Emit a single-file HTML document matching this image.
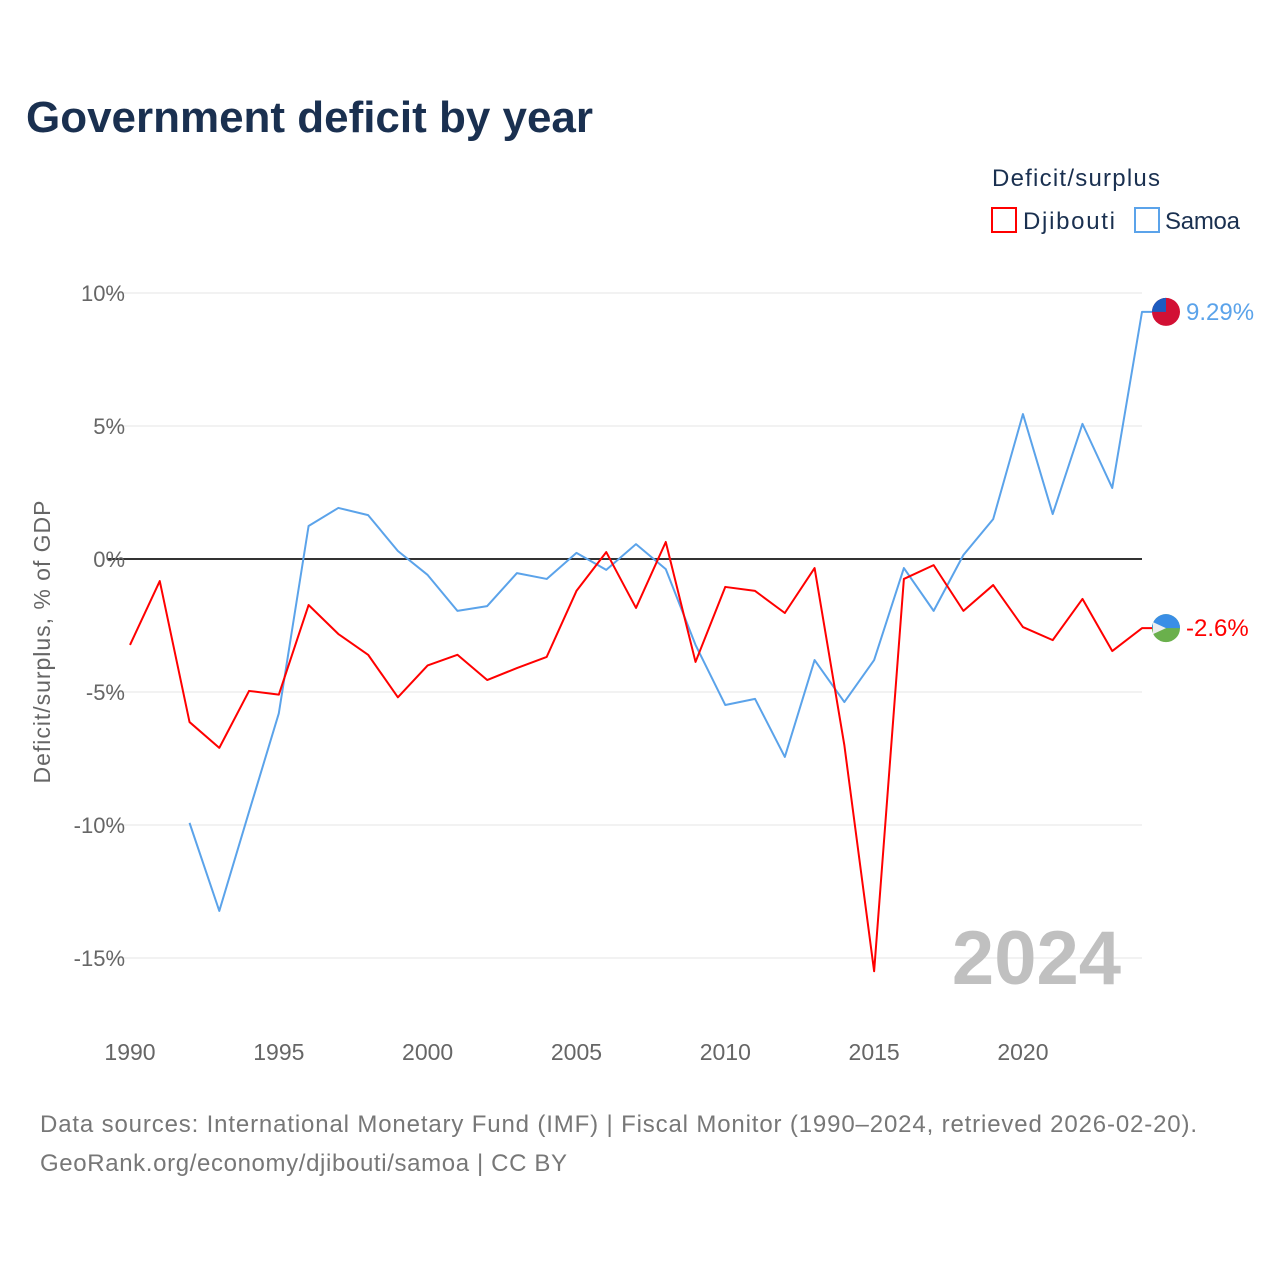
<!DOCTYPE html>
<html><head><meta charset="utf-8"><style>
body{margin:0;background:#fff;width:1280px;height:1280px;overflow:hidden;font-family:"Liberation Sans",sans-serif}
</style></head><body>
<svg id="chart" width="1280" height="1280" xmlns="http://www.w3.org/2000/svg" font-family="Liberation Sans, sans-serif">
<text x="26" y="132" font-size="44" font-weight="bold" fill="#1a3050" textLength="567">Government deficit by year</text>
<text x="992" y="186" font-size="24" fill="#1a3050" textLength="168">Deficit/surplus</text>
<g><rect x="992" y="208" width="24" height="24" fill="none" stroke="#ff0000" stroke-width="2"/><text x="1023" y="229" font-size="24" fill="#1a3050" textLength="92">Djibouti</text></g>
<g><rect x="1135" y="208" width="24" height="24" fill="none" stroke="#5ba3ea" stroke-width="2"/><text x="1165" y="229" font-size="24" fill="#1a3050" textLength="75">Samoa</text></g>
<text transform="translate(50,642) rotate(-90)" text-anchor="middle" font-size="23" fill="#666" textLength="283">Deficit/surplus, % of GDP</text>
<g id="grid"></g><g id="series"></g>
<text x="1121" y="984" text-anchor="end" font-size="76" font-weight="bold" fill="#c0c0c0">2024</text>
<text x="40" y="1132" font-size="24" fill="#777" textLength="1157">Data sources: International Monetary Fund (IMF) | Fiscal Monitor (1990–2024, retrieved 2026-02-20).</text>
<text x="40" y="1171" font-size="24" fill="#777" textLength="527">GeoRank.org/economy/djibouti/samoa | CC BY</text>
</svg>
<script>
const years=[];for(let y=1990;y<=2024;y++)years.push(y);
const djibouti=[-3.23,-0.83,-6.13,-7.1,-4.96,-5.1,-1.73,-2.82,-3.6,-5.2,-4.0,-3.6,-4.55,-4.1,-3.68,-1.2,0.26,-1.84,0.64,-3.87,-1.05,-1.2,-2.03,-0.34,-7.0,-15.5,-0.75,-0.23,-1.95,-0.98,-2.56,-3.05,-1.5,-3.46,-2.6];
const samoa=[null,null,-9.92,-13.23,-9.5,-5.8,1.24,1.92,1.65,0.3,-0.6,-1.95,-1.77,-0.53,-0.75,0.23,-0.41,0.56,-0.38,-3.23,-5.49,-5.26,-7.44,-3.8,-5.38,-3.8,-0.34,-1.95,0.15,1.5,5.45,1.69,5.08,2.67,9.29];
const yTicks=[10,5,0,-5,-10,-15];
const xTicks=[1990,1995,2000,2005,2010,2015,2020];
const X=y=>130+(y-1990)*(1142-130)/34;
const Y=v=>559-v*26.6;
const NS="http://www.w3.org/2000/svg";
function mk(t,a,p){const e=document.createElementNS(NS,t);for(const k in a)e.setAttribute(k,a[k]);p.appendChild(e);return e;}
const g=document.getElementById('grid'),s=document.getElementById('series');
yTicks.forEach(v=>{
 const l=mk('line',{x1:107,x2:1142,y1:Y(v),y2:Y(v),stroke:v===0?'#333':'#e6e6e6','stroke-width':v===0?2:1},g);
 
 
 const t=mk('text',{x:125,y:Y(v)+8,'text-anchor':'end','font-size':22,fill:'#666'},g);t.textContent=v+'%';
 
 
});
xTicks.forEach(v=>{
 const t=mk('text',{x:X(v),y:1060,'text-anchor':'middle','font-size':23,fill:'#666'},g);t.textContent=v;
 
 
});
function line(data,color,name){
 let d='';data.forEach((v,i)=>{if(v===null)return;d+=(d?'L':'M')+X(years[i])+','+Y(v);});
 const last=data[data.length-1];d+='L'+(X(2024)+10)+','+Y(last);
 const p=mk('path',{d:d,fill:'none',stroke:color,'stroke-width':2,'stroke-linejoin':'round'},s);
 
 
 return Y(last);
}
const ys=line(samoa,'#5ba3ea','samoa'),yd=line(djibouti,'#ff0000','djibouti');
const fs=mk('g',{},s);


mk('circle',{cx:1166,cy:ys,r:14,fill:'#d21034'},fs);
mk('path',{d:`M1152,${ys} A14,14 0 0 1 1166,${ys-14} L1166,${ys} Z`,fill:'#1d5bbf'},fs);
const fd=mk('g',{},s);


mk('circle',{cx:1166,cy:yd,r:14,fill:'#6ab04c'},fd);
mk('path',{d:`M1152,${yd} A14,14 0 0 1 1180,${yd} Z`,fill:'#3a8ee6'},fd);
mk('path',{d:`M1153,${yd-6} L1166,${yd} L1153,${yd+6} Z`,fill:'#eee'},fd);
const ls=mk('text',{x:1186,y:ys+8,'font-size':24,fill:'#5ba3ea'},s);ls.textContent=samoa[samoa.length-1]+'%';


const ld=mk('text',{x:1186,y:yd+8,'font-size':24,fill:'#ff0000'},s);ld.textContent=djibouti[djibouti.length-1]+'%';


</script>
</body></html>
